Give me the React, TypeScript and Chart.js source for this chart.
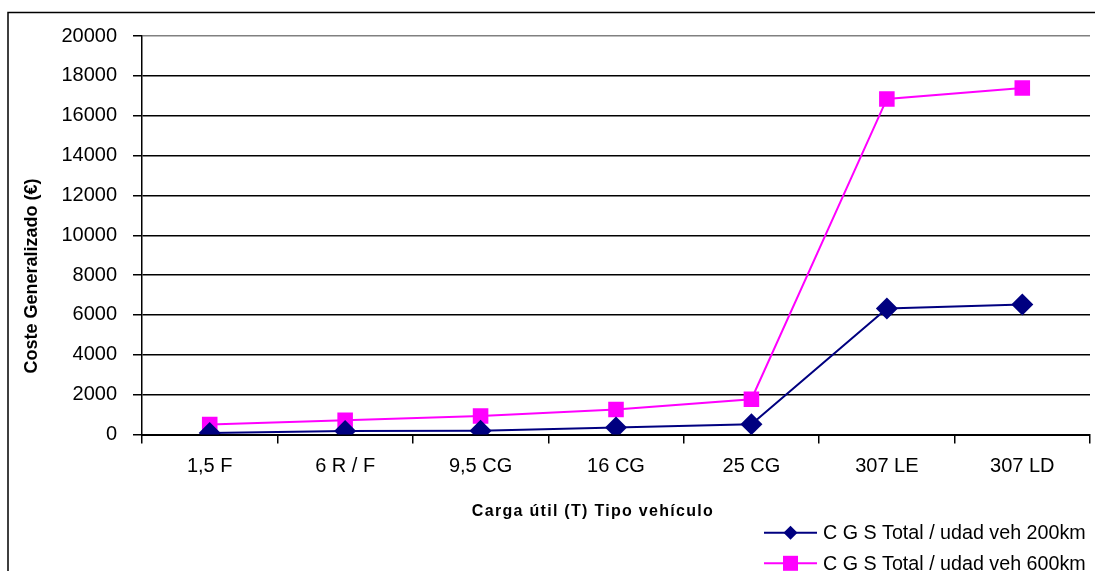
import React, { useEffect, useRef } from 'react';
import { Chart, registerables } from 'chart.js';

Chart.register(...registerables);

const categories = ['1,5 F', '6 R / F', '9,5 CG', '16 CG', '25 CG', '307 LE', '307 LD'];
const series200 = [80, 180, 190, 350, 520, 6320, 6520];
const series600 = [500, 710, 930, 1250, 1770, 16840, 17390];
const seriesLabels = ['C G S Total / udad veh 200km', 'C G S Total / udad veh 600km'];
const seriesColors = ['#000080', '#FF00FF'];
const seriesMarkers = ['rectRot', 'rect'];
const yMin = 0;
const yMax = 20000;
const yStep = 2000;
const xTitle = 'Carga útil (T) Tipo vehículo';
const yTitle = 'Coste Generalizado (€)';

const FONT = '"Liberation Sans", Arial, sans-serif';

const overlay = {
  id: 'overlay',
  afterDraw(chart: any) {
    const ctx = chart.ctx as CanvasRenderingContext2D;
    ctx.save();
    // outer frame
    ctx.strokeStyle = '#000';
    ctx.lineWidth = 1.5;
    ctx.beginPath();
    ctx.moveTo(8, 700);
    ctx.lineTo(8, 12.5);
    ctx.lineTo(1300, 12.5);
    ctx.stroke();

    // y title
    ctx.save();
    ctx.translate(32, 276);
    ctx.rotate(-Math.PI / 2);
    ctx.font = `bold 18px ${FONT}`;
    ctx.fillStyle = '#000';
    ctx.textAlign = 'center';
    ctx.textBaseline = 'middle';
    ctx.fillText(yTitle, 0, 0);
    ctx.restore();

    // x title
    ctx.save();
    ctx.font = `bold 16px ${FONT}`;
    (ctx as any).letterSpacing = '1.3px';
    ctx.fillStyle = '#000';
    ctx.textAlign = 'center';
    ctx.textBaseline = 'middle';
    ctx.fillText(xTitle, 593, 512);
    ctx.restore();

    // legend
    chart.data.datasets.forEach((ds: any, i: number) => {
      const y = 532.7 + i * 30.6;
      ctx.strokeStyle = ds.borderColor;
      ctx.lineWidth = 2;
      ctx.beginPath();
      ctx.moveTo(764, y);
      ctx.lineTo(817, y);
      ctx.stroke();
      ctx.fillStyle = ds.borderColor;
      const cx = 790.5;
      if (ds.pointStyle === 'rect') {
        ctx.fillRect(cx - 7.5, y - 7.5, 15, 15);
      } else {
        ctx.beginPath();
        ctx.moveTo(cx - 7, y);
        ctx.lineTo(cx, y + 7);
        ctx.lineTo(cx + 7, y);
        ctx.lineTo(cx, y - 7);
        ctx.closePath();
        ctx.fill();
      }
      ctx.fillStyle = '#000';
      ctx.font = `19.7px ${FONT}`;
      ctx.textAlign = 'left';
      ctx.textBaseline = 'middle';
      ctx.fillText(ds.label, 823, y + 1);
    });
    ctx.restore();
  },
};

export default function App() {
  const ref = useRef<HTMLCanvasElement | null>(null);

  useEffect(() => {
    if (!ref.current) return;
    const chart = new Chart(ref.current, {
      type: 'line',
      data: {
        labels: categories,
        datasets: [series200, series600].map((d, i) => ({
          label: seriesLabels[i],
          data: d,
          borderColor: seriesColors[i],
          backgroundColor: seriesColors[i],
          borderWidth: 2,
          pointStyle: seriesMarkers[i] as any,
          pointRadius: 11,
          pointHoverRadius: 11,
          pointBorderWidth: 0,
          tension: 0,
          fill: false,
        })),
      },
      options: {
        responsive: false,
        animation: false,
        devicePixelRatio: 1,
        layout: { padding: { left: 8, top: 36, right: 0, bottom: 0 } },
        plugins: {
          legend: { display: false },
          title: { display: false },
          tooltip: { enabled: false },
        },
        scales: {
          x: {
            type: 'category',
            offset: true,
            grid: {
              offset: true,
              drawOnChartArea: false,
              drawTicks: true,
              tickLength: 9,
              color: '#000',
              lineWidth: 1.5,
            },
            border: { color: '#000', width: 2 },
            ticks: {
              color: '#000',
              font: { family: FONT, size: 20 },
              padding: 11,
              maxRotation: 0,
              autoSkip: false,
            },
            afterFit: (s: any) => {
              s.height = 571 - 434.5;
            },
          },
          y: {
            min: yMin,
            max: yMax,
            ticks: {
              stepSize: yStep,
              color: '#000',
              font: { family: FONT, size: 20 },
              padding: 16,
              callback: (v: any) => String(v),
            },
            grid: {
              color: (c: any) => (c.tick && c.tick.value === yMax ? '#808080' : '#000'),
              tickColor: '#000',
              lineWidth: 1.5,
              tickLength: 9,
            },
            border: { color: '#000', width: 1.5 },
            afterFit: (s: any) => {
              s.width = 134;
            },
          },
        },
      },
      plugins: [overlay],
    });
    return () => chart.destroy();
  }, []);

  return (
    <div
      style={{
        position: 'fixed',
        left: 0,
        top: 0,
        width: 1095,
        height: 571,
        overflow: 'hidden',
        background: '#fff',
      }}
    >
      <canvas ref={ref} width={1101} height={571} style={{ display: 'block' }} />
    </div>
  );
}
